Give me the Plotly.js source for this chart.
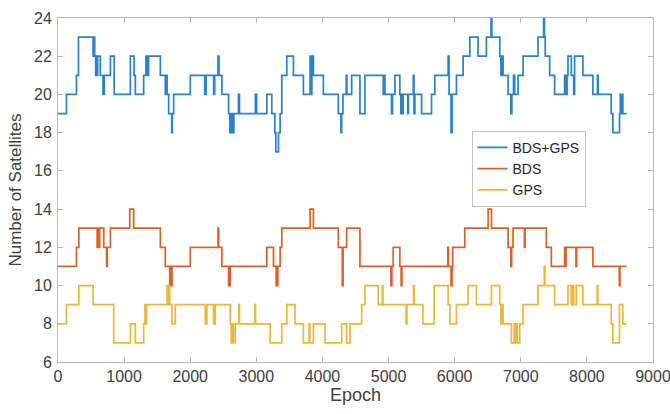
<!DOCTYPE html>
<html>
<head>
<meta charset="utf-8">
<script src="https://cdn.plot.ly/plotly-3.0.1.min.js"></script>
<style>
html,body{margin:0;padding:0;background:#fff;}
#chart{width:670px;height:414px;}
</style>
</head>
<body>
<div id="chart"></div>
<script>
// Step change points (epoch where the count changes, new count)
const bdsGpsEpoch = [0,128,279,310,531,545,555,570,580,592,600,640,680,700,793,850,1095,1150,1170,1296,1330,1340,1350,1360,1370,1548,1623,1640,1650,1674,1720,1730,1749,2001,2220,2240,2355,2370,2420,2435,2479,2580,2600,2615,2640,2660,2730,2745,2985,3005,3159,3234,3280,3295,3335,3360,3385,3461,3561,3712,3813,3825,3840,3863,4014,4240,4280,4291,4310,4360,4370,4442,4567,4643,4920,4935,4945,5045,5060,5096,5171,5185,5196,5210,5220,5290,5300,5373,5385,5398,5499,5650,5700,5901,5915,5945,5960,6027,6128,6229,6354,6480,6550,6562,6682,6700,6710,6732,6808,6850,6865,6890,6908,6959,7034,7261,7345,7358,7370,7437,7512,7663,7680,7700,7714,7764,7800,7814,7940,8091,8160,8170,8368,8393,8493,8505,8520,8530,8544,8600];
const bdsGpsSats  = [19,20,21,23,22,23,22,21,22,21,22,21,20,21,22,20,22,21,20,21,22,21,22,21,22,21,20,21,20,19,18,19,20,21,20,21,20,21,22,21,20,19,18,19,18,19,20,19,20,19,20,19,18,17,18,19,21,22,21,20,22,20,22,21,20,19,18,19,20,21,20,21,19,21,20,21,20,19,20,21,20,19,20,19,20,19,20,21,19,20,19,20,21,22,20,18,20,21,22,23,22,23,24,23,22,21,22,21,20,19,20,21,20,21,22,23,24,23,22,21,20,21,20,21,22,21,20,22,21,20,21,20,19,18,19,20,19,20,19,19];

const bdsEpoch = [0,279,315,592,605,615,630,692,735,745,793,1085,1145,1548,1623,1690,1700,1710,1724,2001,2420,2430,2479,2580,2605,3159,3259,3300,3325,3360,3385,3813,3863,4240,4300,4312,4366,4567,5035,5050,5070,5171,5190,5202,5895,5905,5945,5960,5970,6153,6506,6556,6808,6850,6862,6883,7055,7065,7387,7462,7663,7675,7685,7835,7845,8091,8490,8500,8600];
const bdsSats  = [11,12,13,12,13,12,13,12,11,12,13,14,13,12,11,10,11,10,11,12,13,12,11,10,11,12,11,10,11,12,13,14,13,12,10,12,13,11,10,11,12,11,10,11,12,11,10,11,12,13,14,13,12,11,12,13,12,13,12,11,12,11,12,11,12,11,10,11,11];

const gpsEpoch = [0,128,315,531,843,1095,1170,1296,1315,1325,1340,1650,1660,1670,1690,1724,1774,2227,2252,2353,2379,2605,2620,2640,2650,2680,2735,2745,2978,2988,3209,3385,3461,3586,3712,3798,3808,3863,4039,4291,4366,4417,4593,4643,4844,4905,4915,5265,5278,5378,5388,5520,5690,5901,5927,6027,6203,6329,6556,6682,6700,6710,6732,6858,6900,6915,6930,6945,6984,7034,7261,7355,7365,7512,7714,7764,7790,7800,7839,7940,8155,8165,8368,8393,8493,8544,8600];
const gpsSats  = [8,9,10,9,7,8,7,8,9,8,9,10,9,10,9,8,9,8,9,8,9,8,7,8,7,8,9,8,9,8,7,8,9,8,7,8,7,8,7,8,7,8,9,10,9,10,9,8,9,10,9,8,10,9,8,9,10,9,10,9,8,9,8,7,8,7,8,7,8,9,10,11,10,9,10,9,10,9,10,9,10,9,8,7,9,8,8];

const seriesNames = ['BDS+GPS','BDS','GPS'];
const xTickVals = [0,1000,2000,3000,4000,5000,6000,7000,8000,9000];
const yTickVals = [6,8,10,12,14,16,18,20,22,24];

const colors = ['#2b83c6','#d9622b','#ecb83a'];
const fontFam = '"Liberation Sans", Arial, Helvetica, sans-serif';

const xs = [bdsGpsEpoch, bdsEpoch, gpsEpoch];
const ys = [bdsGpsSats, bdsSats, gpsSats];
const traces = seriesNames.map((n,i)=>({
  type:'scatter', mode:'lines', name:n,
  x: xs[i], y: ys[i],
  line:{shape:'hv', color:colors[i], width:1.7}
}));

const axisCommon = {
  showline:true, mirror:'ticks', linecolor:'#b8b8b8', linewidth:1,
  ticks:'inside', ticklen:5, tickcolor:'#b8b8b8', tickwidth:1,
  showgrid:false, zeroline:false, ticklabeloverflow:'allow',
  tickfont:{family:fontFam, size:16, color:'#404040'}
};

const layout = {
  width:670, height:414,
  margin:{l:58, r:17, t:18, b:52},
  paper_bgcolor:'#fff', plot_bgcolor:'#fff',
  showlegend:true,
  legend:{
    x:0.695, y:0.672, xanchor:'left', yanchor:'top',
    bgcolor:'#fff', bordercolor:'#c4c4c4', borderwidth:1,
    font:{family:fontFam, size:14, color:'#262626'},
    tracegroupgap:0, itemwidth:30
  },
  xaxis: Object.assign({}, axisCommon, {
    range:[0,9000], tickmode:'array', tickvals:xTickVals,
    title:{text:'Epoch', font:{family:fontFam, size:18, color:'#404040'}, standoff:4}
  }),
  yaxis: Object.assign({}, axisCommon, {
    range:[6,24], tickmode:'array', tickvals:yTickVals,
    ticklabelstandoff:2,
    title:{text:'Number of Satellites', font:{family:fontFam, size:17, color:'#404040'}, standoff:8}
  })
};

Plotly.newPlot('chart', traces, layout, {displayModeBar:false, staticPlot:true});
</script>
</body>
</html>
